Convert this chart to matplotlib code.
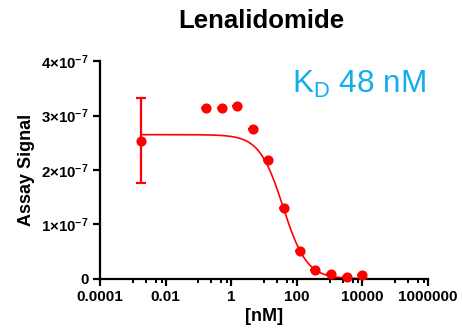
import numpy as np
import matplotlib.pyplot as plt
from matplotlib.ticker import FixedLocator, NullFormatter

plt.rcParams['font.family'] = ['Liberation Sans', 'DejaVu Sans']
plt.rcParams['mathtext.fontset'] = 'custom'
plt.rcParams['mathtext.rm'] = 'Liberation Sans'
plt.rcParams['mathtext.bf'] = 'Liberation Sans:bold'

# Concentrations (nM) and mean assay signal
conc = [0.0018, 0.169, 0.508, 1.52, 4.57, 13.7, 41.2, 123, 370, 1111, 3333, 10000]
signal = [2.54e-7, 3.14e-7, 3.14e-7, 3.17e-7, 2.76e-7, 2.18e-7, 1.31e-7,
          0.505e-7, 0.16e-7, 0.087e-7, 0.037e-7, 0.063e-7]
err = [0.78e-7, 0, 0, 0, 0, 0, 0, 0, 0, 0, 0, 0]

# Four-parameter logistic fit
top = 2.65e-7
bottom = 0.0
ec50 = 38.0
hill = 1.2

x_ticks = [1e-4, 1e-2, 1, 1e2, 1e4, 1e6]
x_tick_labels = ['0.0001', '0.01', '1', '100', '10000', '1000000']
y_ticks = [0, 1e-7, 2e-7, 3e-7, 4e-7]
y_tick_labels = ['0', r'$\mathbf{1{\times}10^{-7}}$', r'$\mathbf{2{\times}10^{-7}}$',
                 r'$\mathbf{3{\times}10^{-7}}$', r'$\mathbf{4{\times}10^{-7}}$']

W, H = 462, 336
fig = plt.figure(figsize=(W / 100, H / 100), dpi=100)
ax = fig.add_axes([100 / W, 1 - 278.7 / H, 328 / W, 217.4 / H])

xs = np.logspace(np.log10(conc[0]), np.log10(conc[-1]), 300)
fit = bottom + (top - bottom) / (1 + (xs / ec50) ** hill)
ax.plot(xs, fit, color='#ff0000', lw=1.2, zorder=2)

ax.errorbar(conc, signal, yerr=err, fmt='o', color='#ff0000', ms=6.3,
            elinewidth=1.6, capsize=3.4, capthick=1.6, zorder=3, clip_on=False)

ax.set_xscale('log')
ax.set_xlim(1e-4, 1e6)
ax.set_ylim(0, 4e-7)

minor = []
for k in x_ticks[:-1]:
    minor += [k * 10, k * 25, k * 50, k * 75]
ax.xaxis.set_major_locator(FixedLocator(x_ticks))
ax.xaxis.set_minor_locator(FixedLocator(minor))
ax.xaxis.set_minor_formatter(NullFormatter())
ax.set_xticklabels(x_tick_labels, fontsize=11, fontweight='bold')
ax.set_yticks(y_ticks)
ax.set_yticklabels(y_tick_labels, fontsize=10.8, fontweight='bold')

for side in ['top', 'right']:
    ax.spines[side].set_visible(False)
for side in ['left', 'bottom']:
    ax.spines[side].set_linewidth(1.6)
ax.tick_params(which='major', length=5, width=1.6, pad=3)
ax.tick_params(which='minor', length=3, width=1.4)

ax.set_ylabel('Assay Signal', fontsize=13, fontweight='bold', labelpad=5)
ax.set_xlabel('[nM]', fontsize=13, fontweight='bold', labelpad=3)

fig.text(261.5 / W, 1 - 21 / H, 'Lenalidomide', fontsize=18.5, fontweight='bold',
         ha='center', va='center')
fig.text(292 / W, 1 - 92.7 / H, r'K$_\mathrm{D}$ 48 nM', fontsize=22.7,
         color='#12adeb', ha='left', va='baseline')

fig.savefig('out.png', dpi=100)
